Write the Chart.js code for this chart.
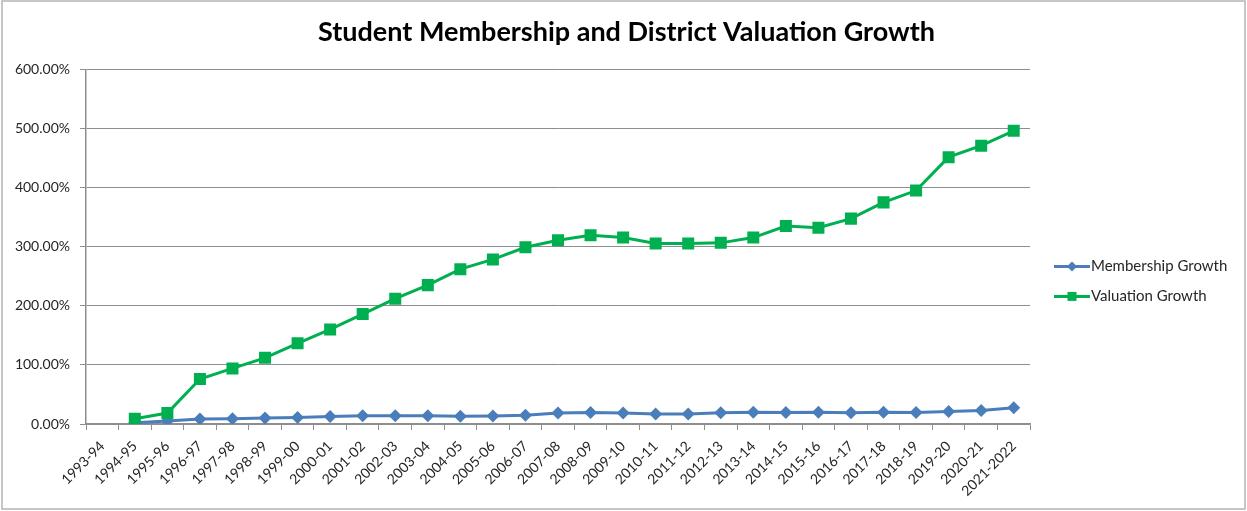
<!DOCTYPE html>
<html>
<head>
<meta charset="utf-8">
<script src="https://cdn.jsdelivr.net/npm/chart.js@4.4.0/dist/chart.umd.min.js"></script>
<style>
  html, body { margin: 0; padding: 0; background: #fff; }
  #wrap { width: 1247px; height: 511px; position: relative; }
</style>
</head>
<body>
<div id="wrap"><canvas id="growthChart" width="1247" height="511"></canvas></div>
<script>
var chartTitle = 'Student Membership and District Valuation Growth';

var years = [
    '1993-94', '1994-95', '1995-96', '1996-97', '1997-98', '1998-99', '1999-00',
    '2000-01', '2001-02', '2002-03', '2003-04', '2004-05', '2005-06', '2006-07',
    '2007-08', '2008-09', '2009-10', '2010-11', '2011-12', '2012-13', '2013-14',
    '2014-15', '2015-16', '2016-17', '2017-18', '2018-19', '2019-20', '2020-21',
    '2021-2022'
];

// percent values, first year has no data point
var membershipGrowth = [
    null, 2, 5, 8.5, 9, 10, 11,
    12.5, 14, 14, 14, 13, 13.5, 15,
    18.5, 19.5, 18.5, 17, 17, 19, 20,
    19.5, 20, 19, 20, 19.5, 21, 23,
    27.5
];

var valuationGrowth = [
    null, 9, 18.5, 76, 94, 112, 136.5,
    160, 186, 212, 235, 262, 278.5, 299,
    311, 319.5, 315.5, 305.5, 305.5, 306.5, 315.5,
    335, 332, 347.5, 375, 395, 451.5, 471,
    496
];

var yTicks = { min: 0, max: 600, step: 100 };

var blue = '#4a7ebb';
var green = '#00b050';
var textColor = '#262626';
var gridColor = '#8e8e8e';
var baseFont = 'Lato, "Open Sans", sans-serif';

// draws the outer frame and the line+marker legend at the right
var frameAndLegend = {
    id: 'frameAndLegend',
    afterDraw: function (chart) {
        var ctx = chart.ctx;
        ctx.save();
        ctx.strokeStyle = '#b4b4b4';
        ctx.lineWidth = 1.5;
        ctx.strokeRect(2, 1, chart.width - 4, chart.height - 3);

        var x0 = chart.chartArea.right + 24;
        var y0 = chart.chartArea.top + 197;
        ctx.font = '15px ' + baseFont;
        ctx.textBaseline = 'middle';
        chart.data.datasets.forEach(function (ds, i) {
            var y = y0 + i * 30;
            ctx.strokeStyle = ds.borderColor;
            ctx.lineWidth = 3;
            ctx.beginPath();
            ctx.moveTo(x0, y);
            ctx.lineTo(x0 + 36, y);
            ctx.stroke();
            ctx.fillStyle = ds.backgroundColor;
            var cx = x0 + 18;
            ctx.beginPath();
            if (ds.pointStyle === 'rectRot') {
                ctx.moveTo(cx - 5, y);
                ctx.lineTo(cx, y - 5);
                ctx.lineTo(cx + 5, y);
                ctx.lineTo(cx, y + 5);
                ctx.closePath();
            } else {
                ctx.rect(cx - 4.5, y - 4.5, 9, 9);
            }
            ctx.fill();
            ctx.fillStyle = textColor;
            ctx.textAlign = 'left';
            ctx.fillText(ds.label, x0 + 37, y);
        });
        ctx.restore();
    }
};

var ctx = document.getElementById('growthChart').getContext('2d');
var growthChart = new Chart(ctx, {
    type: 'line',
    data: {
        labels: years,
        datasets: [
            {
                label: 'Membership Growth',
                data: membershipGrowth,
                borderColor: blue,
                backgroundColor: blue,
                borderWidth: 3,
                pointStyle: 'rectRot',
                pointRadius: 6.5,
                pointBorderWidth: 0,
                tension: 0,
                order: 1
            },
            {
                label: 'Valuation Growth',
                data: valuationGrowth,
                borderColor: green,
                backgroundColor: green,
                borderWidth: 3,
                pointStyle: 'rect',
                pointRadius: 8.5,
                pointBorderWidth: 0,
                tension: 0,
                order: 0
            }
        ]
    },
    options: {
        responsive: false,
        animation: false,
        devicePixelRatio: 1,
        layout: { padding: { left: 6, right: 0, bottom: 8, top: 0 } },
        plugins: {
            legend: { display: false },
            tooltip: { enabled: false },
            title: {
                display: true,
                text: chartTitle,
                color: '#000',
                font: { family: baseFont, size: 27, weight: 'bold' },
                padding: { top: 16, bottom: 21 }
            }
        },
        scales: {
            x: {
                offset: true,
                grid: {
                    offset: true,
                    drawOnChartArea: false,
                    drawTicks: true,
                    tickLength: 6,
                    color: gridColor
                },
                border: { color: gridColor, width: 1.5 },
                ticks: {
                    autoSkip: false,
                    maxRotation: 45,
                    minRotation: 45,
                    padding: 8,
                    color: textColor,
                    font: { family: baseFont, size: 14 }
                },
                afterFit: function (scale) { scale.height = 79; }
            },
            y: {
                min: yTicks.min,
                max: yTicks.max,
                grid: {
                    color: gridColor,
                    lineWidth: 1,
                    drawTicks: true,
                    tickLength: 6
                },
                border: { color: gridColor, width: 1.5 },
                ticks: {
                    stepSize: yTicks.step,
                    padding: 10,
                    color: textColor,
                    font: { family: baseFont, size: 14 },
                    callback: function (v) { return v.toFixed(2) + '%'; }
                },
                afterFit: function (scale) { scale.width = 80; }
            },
            // empty right-hand axis, only reserves room for the legend
            legendSpace: {
                type: 'linear',
                position: 'right',
                min: 0,
                max: 1,
                grid: { display: false },
                border: { display: false },
                ticks: { display: false },
                afterFit: function (scale) { scale.width = 217; }
            }
        }
    },
    plugins: [frameAndLegend]
});
</script>
</body>
</html>
